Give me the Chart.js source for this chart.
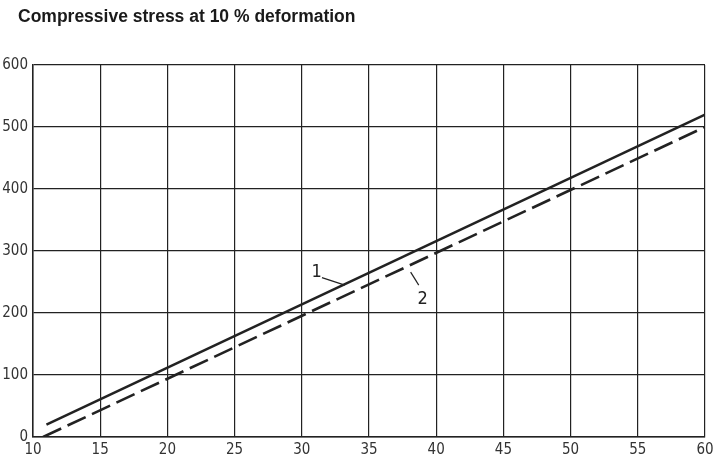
<!DOCTYPE html>
<html>
<head>
<meta charset="utf-8">
<script src="https://cdn.jsdelivr.net/npm/chart.js@4.4.1/dist/chart.umd.min.js"></script>
<style>
  html, body { margin: 0; padding: 0; background: #fff; }
  #wrap { position: relative; width: 715px; height: 455px; }
  #title { position: absolute; left: 18px; top: 6px; font: bold 17.5px "Liberation Sans", Arial, sans-serif; color: #1a1a1a; }
</style>
</head>
<body>
<div id="wrap">
  <div id="title">Compressive stress at 10 % deformation</div>
  <canvas id="c" width="715" height="455"></canvas>
</div>
<script>
  // deformation values (x) and stress (y)
  const line1X = [11, 60];
  const line1Y = [20, 520];
  const line2X = [10.75, 60];
  const line2Y = [0, 500];
  const xTicks = [10, 15, 20, 25, 30, 35, 40, 45, 50, 55, 60];
  const yTicks = [0, 100, 200, 300, 400, 500, 600];

  // curve labels: text position and leader line, in data units
  const curveLabels = [
    { text: '1', at: [31.1, 266], from: [31.5, 257], to: [33.2, 245] },
    { text: '2', at: [39.0, 222], from: [38.1, 266], to: [38.7, 245] }
  ];

  const tickFont = { family: '"DejaVu Sans Condensed", "DejaVu Sans", sans-serif', size: 15 };
  const ink = '#222';

  const labelPlugin = {
    id: 'curveLabels',
    afterDatasetsDraw(chart) {
      const { ctx, scales: { x, y } } = chart;
      ctx.save();
      ctx.strokeStyle = ink;
      ctx.lineWidth = 1.2;
      ctx.fillStyle = ink;
      ctx.font = '18px "DejaVu Sans Condensed", "DejaVu Sans", sans-serif';
      ctx.textAlign = 'center';
      ctx.textBaseline = 'middle';
      curveLabels.forEach((l) => {
        ctx.beginPath();
        ctx.moveTo(x.getPixelForValue(l.from[0]), y.getPixelForValue(l.from[1]));
        ctx.lineTo(x.getPixelForValue(l.to[0]), y.getPixelForValue(l.to[1]));
        ctx.stroke();
        ctx.fillText(l.text, x.getPixelForValue(l.at[0]), y.getPixelForValue(l.at[1]));
      });
      ctx.restore();
    }
  };

  new Chart(document.getElementById('c'), {
    type: 'scatter',
    data: {
      datasets: [
        {
          data: line1X.map((v, i) => ({ x: v, y: line1Y[i] })),
          showLine: true, borderColor: ink, borderWidth: 2.6, pointRadius: 0
        },
        {
          data: line2X.map((v, i) => ({ x: v, y: line2Y[i] })),
          showLine: true, borderColor: ink, borderWidth: 2.6, pointRadius: 0, borderDash: [20, 7]
        }
      ]
    },
    options: {
      responsive: false,
      animation: false,
      layout: { padding: { left: 0, top: 65, right: 10, bottom: 0 } },
      plugins: { legend: { display: false }, tooltip: { enabled: false } },
      scales: {
        x: {
          type: 'linear', min: 10, max: 60,
          afterBuildTicks: (s) => { s.ticks = xTicks.map((v) => ({ value: v })); },
          afterFit: (s) => { s.height = 18; s.paddingLeft = 0; s.paddingRight = 0; },
          grid: { color: ink, lineWidth: 1.2, drawTicks: false },
          border: { color: ink, width: 1.5 },
          ticks: { color: '#333', font: tickFont, padding: 4, maxRotation: 0 }
        },
        y: {
          type: 'linear', min: 0, max: 600,
          afterBuildTicks: (s) => { s.ticks = yTicks.map((v) => ({ value: v })); },
          afterFit: (s) => { s.width = 33; s.paddingTop = 0; s.paddingBottom = 0; },
          grid: { color: ink, lineWidth: 1.2, drawTicks: false },
          border: { color: ink, width: 1.5 },
          ticks: { color: '#333', font: tickFont, padding: 5 }
        }
      }
    },
    plugins: [labelPlugin]
  });
</script>
</body>
</html>
